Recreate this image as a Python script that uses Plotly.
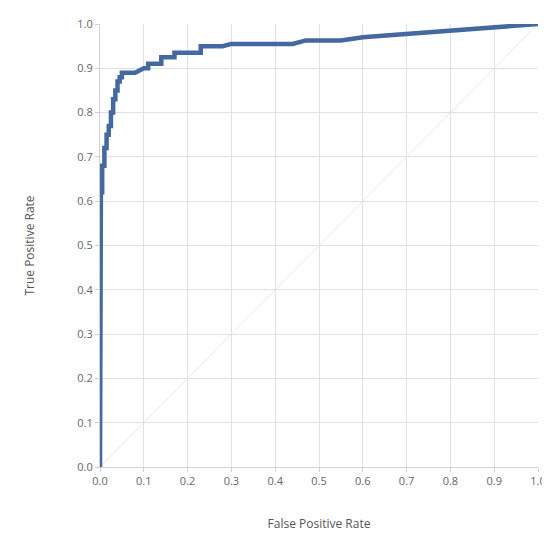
import plotly.graph_objects as go

fpr = [0, 0, 0.002, 0.002, 0.005, 0.005, 0.01, 0.01, 0.015, 0.015, 0.02, 0.02,
       0.025, 0.025, 0.03, 0.03, 0.035, 0.035, 0.04, 0.04, 0.045, 0.045,
       0.05, 0.05, 0.08, 0.1, 0.1, 0.11, 0.11, 0.14, 0.14, 0.17, 0.17,
       0.23, 0.23, 0.28, 0.3, 0.44, 0.47, 0.55, 0.6, 1.0]
tpr = [0, 0.45, 0.45, 0.62, 0.62, 0.68, 0.68, 0.72, 0.72, 0.75, 0.75, 0.77,
       0.77, 0.8, 0.8, 0.83, 0.83, 0.85, 0.85, 0.87, 0.87, 0.88,
       0.88, 0.89, 0.89, 0.9, 0.9, 0.9, 0.91, 0.91, 0.925, 0.925, 0.935,
       0.935, 0.95, 0.95, 0.955, 0.955, 0.963, 0.963, 0.97, 1.0]
ticks = [i / 10 for i in range(11)]

fig = go.Figure()
fig.add_trace(go.Scatter(x=[0, 1], y=[0, 1], mode='lines',
                         line=dict(color='#e6e6e6', width=1), hoverinfo='skip'))
fig.add_trace(go.Scatter(x=fpr, y=tpr, mode='lines',
                         line=dict(color='#4468a0', width=4.5)))

axis = dict(range=[0, 1], tickvals=ticks, ticktext=[f'{t:.1f}' for t in ticks],
            showgrid=True, gridcolor='#e0e0e0', zeroline=False,
            showline=True, linecolor='#d0d0d0', ticks='outside',
            ticklen=4, tickcolor='#d0d0d0', automargin=False,
            tickfont=dict(size=11, color='#666666'),
            title_font=dict(size=12, color='#555555'))

fig.update_layout(
    width=550, height=535,
    font=dict(family='Open Sans, sans-serif'),
    plot_bgcolor='white', paper_bgcolor='white',
    showlegend=False,
    margin=dict(l=92, r=20, t=16, b=76),
    xaxis=dict(axis, title=dict(text='False Positive Rate', standoff=32)),
    yaxis=dict(axis, title=dict(text='True Positive Rate', standoff=40)),
)
fig.write_html("out.html")
